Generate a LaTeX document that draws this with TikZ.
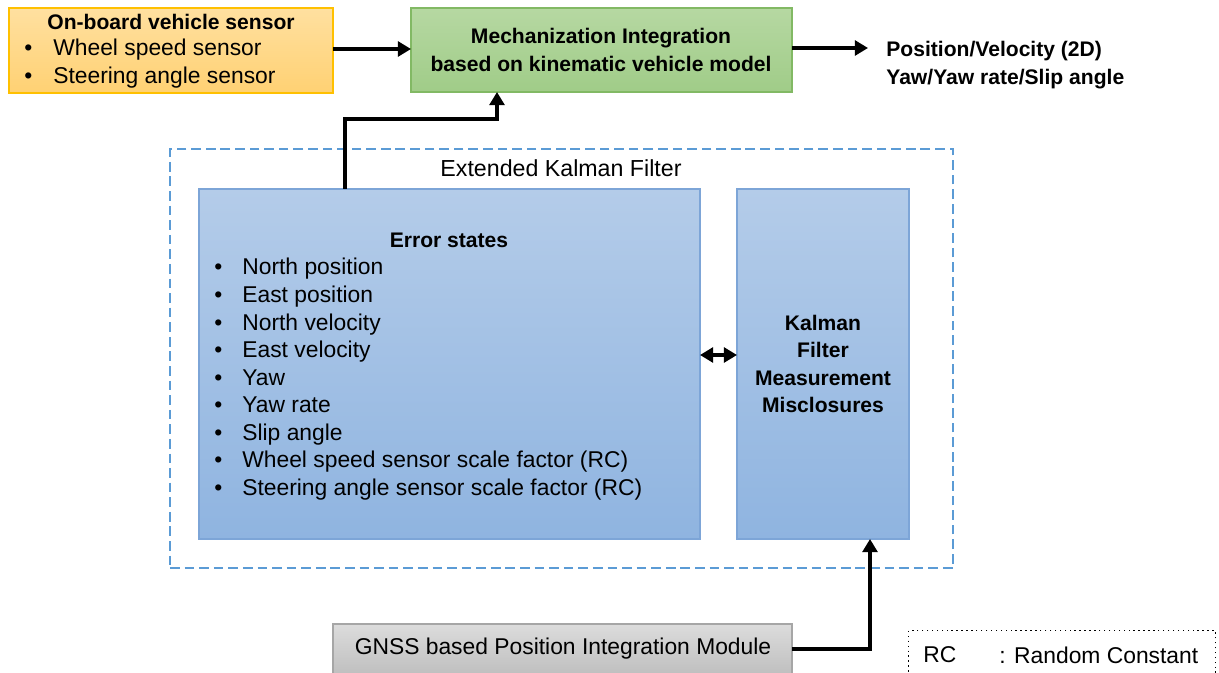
\documentclass[tikz,border=0pt]{standalone}
\usepackage{fontspec}
\setmainfont{Liberation Sans}
\usetikzlibrary{arrows.meta}
\definecolor{orB}{RGB}{255,192,0}
\definecolor{orT}{RGB}{255,224,160}
\definecolor{orD}{RGB}{255,209,115}
\definecolor{grB}{RGB}{130,185,100}
\definecolor{grT}{RGB}{182,216,162}
\definecolor{grD}{RGB}{160,204,136}
\definecolor{blB}{RGB}{125,165,215}
\definecolor{blT}{RGB}{180,204,233}
\definecolor{blD}{RGB}{143,180,224}
\definecolor{dash}{RGB}{91,155,213}
\definecolor{gyB}{RGB}{166,166,166}
\definecolor{gyT}{RGB}{220,220,220}
\definecolor{gyD}{RGB}{190,190,190}
\newcommand{\bul}{\makebox[0.56cm][l]{•}}
\tikzset{
  box/.style={draw, line width=0.6pt, inner sep=0pt, outer sep=0pt},
  arr/.style={line width=1.8pt, -{Triangle[length=7.5pt,width=8.5pt]}},
  darr/.style={line width=1.8pt, {Triangle[length=7.5pt,width=8.5pt]}-{Triangle[length=7.5pt,width=8.5pt]}},
  txt/.style={font=\fontsize{13}{15.7}\selectfont, inner sep=0pt, align=left},
  btxt/.style={font=\fontsize{12}{15.7}\selectfont\bfseries, inner sep=0pt, align=center},
}
\begin{document}
\begin{tikzpicture}[x=0.02cm,y=-0.02cm]
\useasboundingbox (0,0) rectangle (1219,672);
% boxes
\node[box, draw=orB, top color=orT, bottom color=orD, minimum width=324*0.02cm, minimum height=85*0.02cm, anchor=north west] (sens) at (9,8) {};
\node[box, draw=grB, top color=grT, bottom color=grD, minimum width=381*0.02cm, minimum height=84*0.02cm, anchor=north west] (mech) at (411,8) {};
\node[draw=dash, line width=1.2pt, dash pattern=on 5.5pt off 2.8pt, inner sep=0pt, minimum width=783*0.02cm, minimum height=419*0.02cm, anchor=north west] (ekf) at (169,148) {};
\node[box, draw=blB, top color=blT, bottom color=blD, minimum width=501*0.02cm, minimum height=350*0.02cm, anchor=north west] (err) at (199,189) {};
\node[box, draw=blB, top color=blT, bottom color=blD, minimum width=172*0.02cm, minimum height=350*0.02cm, anchor=north west] (kal) at (737,189) {};
\node[box, draw=gyB, top color=gyT, bottom color=gyD, minimum width=459*0.02cm, minimum height=52*0.02cm, anchor=north west] (gnss) at (333,624) {};
\node[draw, line width=0.8pt, dotted, inner sep=0pt, minimum width=307*0.02cm, minimum height=50*0.02cm, anchor=north west] (rc) at (908,630) {};
% texts
\node[btxt, anchor=center] (sensT) at (171,22) {On-board vehicle sensor};
\node[txt, anchor=west] (sensL1) at (24,50) {\makebox[0.58cm][l]{•}Wheel speed sensor};
\node[txt, anchor=west] (sensL2) at (24,78) {\makebox[0.58cm][l]{•}Steering angle sensor};
\node[btxt] (mechT) at (601,50) {Mechanization Integration\\based on kinematic vehicle model};
\node[btxt, align=left, anchor=west] (outT) at (886,65) {Position/Velocity (2D)\\Yaw/Yaw rate/Slip angle};
\node[txt, font=\fontsize{13.2}{15.7}\selectfont] (ekfT) at (561,168) {Extended Kalman Filter};
\node[btxt] (errT) at (449,240) {Error states};
\node[txt, anchor=north west] (errL) at (214,258) {\bul North position\\\bul East position\\\bul North velocity\\\bul East velocity\\\bul Yaw\\\bul Yaw rate\\\bul Slip angle\\\bul Wheel speed sensor scale factor (RC)\\\bul Steering angle sensor scale factor (RC)};
\node[btxt] (kalT) at (823,364) {Kalman\\Filter\\Measurement\\Misclosures};
\node[txt] (gnssT) at (563,649) {GNSS based Position Integration Module};
\node[txt, anchor=west, font=\fontsize{13}{15.7}\selectfont] (rcA) at (923,655) {RC};
\node[txt, anchor=west, font=\fontsize{13}{15.7}\selectfont] (rcB) at (999,655) {: Random Constant};
% coordinates
\coordinate (outEnd) at (868,48);
\coordinate (a1) at (345,119);
\coordinate (a2) at (497,119);
\coordinate (d) at (720,355);
\coordinate (g1) at (870,649);
% connectors
\draw[arr] (sens.east |- 0,49) -- (mech.west |- 0,49);
\draw[arr] (mech.east |- outEnd) -- (outEnd);
\draw[arr] (err.north -| a1) -- (a1) -- (a2) -- (mech.south -| a2);
\draw[darr] (err.east |- d) -- (kal.west |- d);
\draw[arr] (gnss.east |- g1) -- (g1) -- (kal.south -| g1);
\end{tikzpicture}
\end{document}
